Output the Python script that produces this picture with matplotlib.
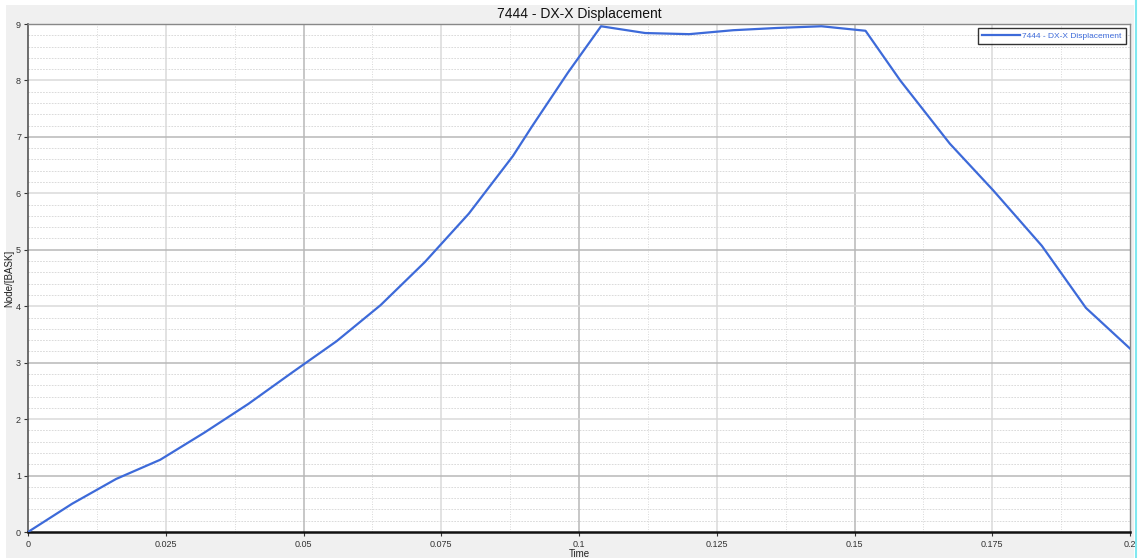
import matplotlib
matplotlib.use("Agg")
import matplotlib.pyplot as plt
from matplotlib.patches import Rectangle
from matplotlib.lines import Line2D
import numpy as np

plt.rcParams['font.family'] = ['Liberation Sans', 'DejaVu Sans']

# ---- data ----
time = [0, 0.008, 0.016, 0.024, 0.032, 0.04, 0.048, 0.056, 0.064, 0.072,
        0.08, 0.088, 0.0915, 0.098, 0.104, 0.112, 0.12, 0.128, 0.136, 0.144,
        0.152, 0.1583, 0.1673, 0.1752, 0.184, 0.192, 0.2]
disp = [0.0, 0.50, 0.94, 1.28, 1.76, 2.27, 2.83, 3.38, 4.02, 4.78,
        5.64, 6.66, 7.19, 8.14, 8.96, 8.84, 8.82, 8.89, 8.93, 8.96,
        8.88, 8.0, 6.88, 6.05, 5.07, 3.97, 3.25]
series_name = "7444 - DX-X Displacement"
title = "7444 - DX-X Displacement"
xlabel = "Time"
ylabel = "Node/[BASK]"
xticks = [0, 0.025, 0.05, 0.075, 0.1, 0.125, 0.15, 0.175, 0.2]
xticklabels = ["0", "0.025", "0.05", "0.075", "0.1", "0.125", "0.15", "0.175", "0.2"]
yticks = [0, 1, 2, 3, 4, 5, 6, 7, 8, 9]

W, H = 1138, 558
fig = plt.figure(figsize=(W / 100, H / 100), dpi=100)
fig.patch.set_facecolor("white")
# gray panel background
fig.add_artist(Rectangle((6 / W, 0), (1134 - 6) / W, (H - 5) / H,
                         transform=fig.transFigure, facecolor="#f0f0f0",
                         edgecolor="none", zorder=-10))
# cyan right edge
fig.add_artist(Line2D([1135.5 / W, 1135.5 / W], [0, 1], transform=fig.transFigure,
                      color="#7fe8f0", lw=1.5))

ax = fig.add_axes([28 / W, 26 / H, (1130 - 28) / W, (532 - 24) / H])
ax.set_facecolor("white")
ax.set_xlim(0, 0.2)
ax.set_ylim(0, 9)

# minor grid
for xv in np.arange(0.0125, 0.2, 0.025):
    ax.axvline(xv, color="#d4d4d4", lw=0.6, ls=(0, (1.2, 1.8)), zorder=0)
for yv in np.arange(0.2, 9.0, 0.2):
    if abs(yv - round(yv)) > 1e-6:
        ax.axhline(yv, color="#d4d4d4", lw=0.6, ls=(0, (2, 1.5)), zorder=0)
# major grid
for i, xv in enumerate(xticks[1:-1], start=1):
    ax.axvline(xv, color="#b8b8b8" if i % 2 == 0 else "#dadada", lw=1.1, zorder=0.5)
for yv in yticks[1:-1]:
    ax.axhline(yv, color="#b8b8b8" if yv % 2 == 1 else "#dadada", lw=1.1, zorder=0.5)

ax.plot(time, disp, color="#3d6ad9", lw=1.6, label=series_name, zorder=3)

ax.set_xticks(xticks)
ax.set_xticklabels(xticklabels)
ax.set_yticks(yticks)
ax.tick_params(axis="both", labelsize=6.5, colors="#333333", length=3, width=0.8, pad=2)
ax.tick_params(axis="x", pad=3)

for s in ["top", "right"]:
    ax.spines[s].set_color("#888888")
    ax.spines[s].set_linewidth(1.0)
ax.spines["left"].set_color("#555555")
ax.spines["left"].set_linewidth(1.2)
ax.spines["bottom"].set_color("#111111")
ax.spines["bottom"].set_linewidth(1.8)

ax.set_title(title, fontsize=10, color="#111111", pad=4)
ax.set_xlabel(xlabel, fontsize=7, color="#222222", labelpad=0)
ax.set_ylabel(ylabel, fontsize=7, color="#222222", labelpad=1)

leg = ax.legend(loc="upper right", fontsize=6, frameon=True, fancybox=False,
                borderaxespad=0.5, handlelength=4.5, borderpad=0.5,
                handletextpad=0.3)
leg.get_frame().set_edgecolor("black")
leg.get_frame().set_linewidth(1.0)
for t in leg.get_texts():
    t.set_color("#3d6ad9")

fig.savefig("out.png", dpi=100, facecolor=fig.get_facecolor())
